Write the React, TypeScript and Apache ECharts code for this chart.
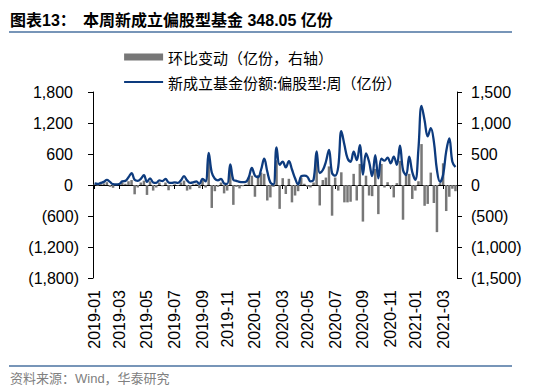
import React, { useEffect, useRef } from 'react';
import * as echarts from 'echarts';

// ---- data ----
const firstWeek = '2019-01-04';
const weekCount = 118;
const tickLabels = [
  '2019-01', '2019-03', '2019-05', '2019-07', '2019-09', '2019-11',
  '2020-01', '2020-03', '2020-05', '2020-07', '2020-09', '2020-11',
  '2021-01', '2021-03',
];
const leftTicks = [-1800, -1200, -600, 0, 600, 1200, 1800];
const rightTicks = [-1500, -1000, -500, 0, 500, 1000, 1500];

// 新成立基金份额:偏股型:周（亿份） - left axis
const newFundShares = [
  30, 20, 40, 60, 100, 60, 15, 10, 20, 70,
  80, 150, 230, 100, 80, 120, 190, 60, 130, 50,
  40, 90, 75, 120, 50, 40, 50, 40, 90, 170,
  90, 40, 50, 70, 20, 120, 70, 620, 240, 120,
  90, 120, 30, 20, 400, 100, 80, 60, 55, 60,
  150, 330, 180, 150, 300, 510, 260, 50, 10, 730,
  390, 450, 340, 460, 300, 130, 10, 170, 180, 160,
  70, 100, 650, 230, 290, 450, 680, 230, 180, 350,
  1040, 780, 520, 450, 645, 480, 770, 200, 610, 450,
  170, 580, 130, 510, 470, 530, 420, 550, 390, 760,
  290, 190, 550, 250, 100, 700, 1530, 1250, 940, 1100,
  840, 290, 60, 200, 650, 900, 450, 348.05,
];

// 环比变动（亿份，右轴）
const weeklyChange = [
  10, -10, 15, 25, 45, -30, -45, 0, 10, 40,
  20, 60, 80, -150, -40, 40, 70, -160, 60, -90,
  -40, 40, -20, 40, -85, -20, 10, -10, 40, 70,
  -90, -70, 10, 20, -50, 80, -40, 480, -370, -100,
  -30, 40, -135, -90, 300, -320, -30, -55, -20, 10,
  120, 150, -190, 160, 200, 180, -250, -200, -30, 400,
  -385, 110, -145, 100, -280, -170, -100, 120, 20, -30,
  -40, 40, 450, -330, 80, 120, 300, -495, 120, -90,
  205, -280, -280, -270, 180, -250, 340, -590, 150, -170,
  -180, 260, -470, 340, -40, 45, -40, -200, 30, 390,
  -560, 180, 180, -225, -90, 60, 660, -335, -305, 200,
  -290, -760, 30, 350, -420, -190, -60, -100,
];

const barName = '环比变动（亿份，右轴）';
const lineName = '新成立基金份额:偏股型:周（亿份）';
const titleLead = '图表13：';
const titleMain = '本周新成立偏股型基金 348.05 亿份';
const sourceText = '资料来源：Wind，华泰研究';

// weekly category dates
const weeks: string[] = (() => {
  const [y, m, d] = firstWeek.split('-').map(Number);
  const t0 = Date.UTC(y, m - 1, d);
  const out: string[] = [];
  for (let i = 0; i < weekCount; i++) {
    const dt = new Date(t0 + i * 7 * 86400000);
    const mm = String(dt.getUTCMonth() + 1).padStart(2, '0');
    const dd = String(dt.getUTCDate()).padStart(2, '0');
    out.push(`${dt.getUTCFullYear()}-${mm}-${dd}`);
  }
  return out;
})();

const labelIndex = new Set<number>(
  tickLabels.map((lab) => weeks.findIndex((w) => w.startsWith(lab))).filter((i) => i >= 0)
);

const FONT = '"Liberation Sans", Arial, "Noto Sans CJK SC", sans-serif';

const fmtNum = (v: number) => {
  const s = Math.abs(v).toLocaleString('en-US');
  return v < 0 ? `(${s})` : s;
};

export default function App() {
  const ref = useRef<HTMLDivElement>(null);

  useEffect(() => {
    document.body.style.margin = '0';
    if (!ref.current) return;
    const chart = echarts.init(ref.current, undefined, { renderer: 'svg' });

    const showAt = (index: number) => labelIndex.has(index);

    chart.setOption({
      animation: false,
      backgroundColor: '#ffffff',
      textStyle: { fontFamily: FONT },
      grid: { left: 93, right: 93, top: 92, height: 186, containLabel: false },
      legend: {
        orient: 'vertical',
        left: 118,
        top: 44,
        itemWidth: 39,
        itemHeight: 7,
        itemGap: 9,
        selectedMode: false,
        textStyle: { fontSize: 15, color: '#000', fontFamily: '"Noto Sans CJK SC", sans-serif', lineHeight: 16 },
        data: [
          { name: barName, icon: 'rect' },
          { name: lineName, itemStyle: { opacity: 0 }, lineStyle: { width: 2.2, color: '#0d3b7e' } },
        ],
      },
      graphic: [
        {
          type: 'text',
          x: 10,
          y: 20,
          style: {
            text: titleLead,
            fill: '#000',
            font: `bold 16px ${FONT}`,
            textVerticalAlign: 'middle',
            verticalAlign: 'middle',
          },
        },
        {
          type: 'text',
          x: 83,
          y: 20,
          style: {
            text: titleMain,
            fill: '#000',
            font: `bold 16px ${FONT}`,
            textVerticalAlign: 'middle',
            verticalAlign: 'middle',
          },
        },
        {
          type: 'line',
          shape: { x1: 9, y1: 32, x2: 512, y2: 32 },
          style: { stroke: '#4a72a0', lineWidth: 1.5 },
        },
        {
          type: 'line',
          shape: { x1: 9, y1: 366, x2: 512, y2: 366 },
          style: { stroke: '#4a72a0', lineWidth: 1.5 },
        },
        {
          type: 'text',
          x: 10,
          y: 378,
          style: {
            text: sourceText,
            fill: '#808080',
            font: `13px ${FONT}`,
            textVerticalAlign: 'middle',
            verticalAlign: 'middle',
          },
        },
      ],
      xAxis: [
        {
          type: 'category',
          data: weeks,
          boundaryGap: true,
          axisLine: { show: true, onZero: true, lineStyle: { color: '#000', width: 1 } },
          axisTick: { show: true, alignWithLabel: true, interval: showAt, length: 4, lineStyle: { color: '#000' } },
          axisLabel: { show: false },
          splitLine: { show: false },
        },
        {
          type: 'category',
          data: weeks,
          position: 'bottom',
          boundaryGap: true,
          axisLine: { show: false, onZero: false },
          axisTick: { show: false },
          axisLabel: {
            show: true,
            rotate: 90,
            interval: showAt,
            margin: 12,
            fontSize: 16,
            color: '#000',
            fontFamily: FONT,
            formatter: (v: string) => v.slice(0, 7),
          },
          splitLine: { show: false },
        },
      ],
      yAxis: [
        {
          type: 'value',
          min: leftTicks[0],
          max: leftTicks[leftTicks.length - 1],
          interval: 600,
          position: 'left',
          axisLine: { show: true, lineStyle: { color: '#000', width: 1 } },
          axisTick: { show: true, length: 5, lineStyle: { color: '#000' } },
          splitLine: { show: false },
          axisLabel: {
            margin: 14,
            fontSize: 16,
            color: '#000',
            fontFamily: FONT,
            formatter: (v: number) => (v < 0 ? `{n|${fmtNum(v)}}` : `{p|${fmtNum(v)}}`),
            rich: {
              p: { fontSize: 16, color: '#000', fontFamily: FONT, padding: [0, 6, 0, 0] },
              n: { fontSize: 16, color: '#000', fontFamily: FONT },
            },
          },
        },
        {
          type: 'value',
          min: rightTicks[0],
          max: rightTicks[rightTicks.length - 1],
          interval: 500,
          position: 'right',
          axisLine: { show: true, lineStyle: { color: '#000', width: 1 } },
          axisTick: { show: true, length: 5, lineStyle: { color: '#000' } },
          splitLine: { show: false },
          axisLabel: {
            margin: 14,
            fontSize: 16,
            color: '#000',
            fontFamily: FONT,
            align: 'left',
            formatter: (v: number) => fmtNum(v),
          },
        },
      ],
      series: [
        {
          name: barName,
          type: 'bar',
          xAxisIndex: 0,
          yAxisIndex: 1,
          data: weeklyChange,
          barWidth: 2.5,
          itemStyle: { color: '#777777' },
          z: 2,
        },
        {
          name: lineName,
          type: 'line',
          xAxisIndex: 0,
          yAxisIndex: 0,
          data: newFundShares,
          smooth: 0.4,
          symbol: 'none',
          showSymbol: false,
          lineStyle: { color: '#0d3b7e', width: 2.3 },
          itemStyle: { color: '#0d3b7e' },
          z: 3,
        },
      ],
    });

    return () => chart.dispose();
  }, []);

  return <div ref={ref} style={{ width: 550, height: 391 }} />;
}
